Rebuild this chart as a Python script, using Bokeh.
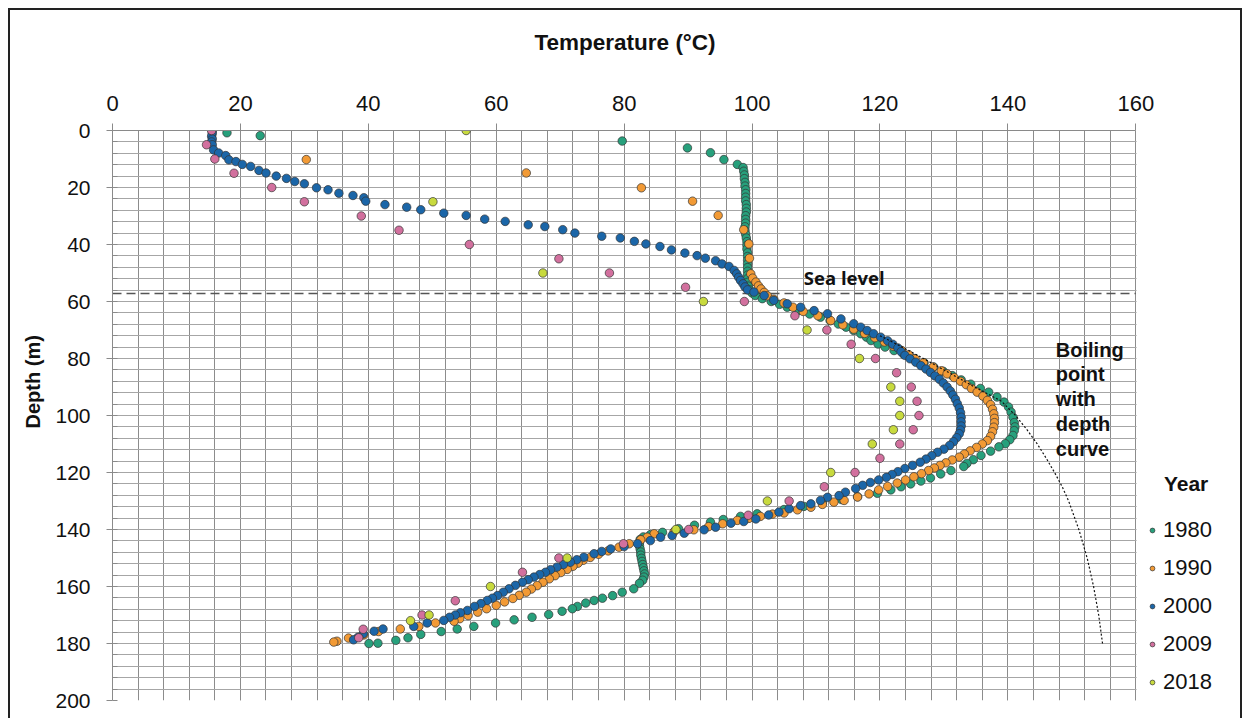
import math
from bokeh.plotting import figure
from bokeh.models import (Range1d, SingleIntervalTicker, Label, Legend, LegendItem,
                          Title, BoxAnnotation)
from bokeh.embed import file_html
from bokeh.resources import INLINE

# ---------------- data ----------------
years = ["1980", "1990", "2000", "2009", "2018"]
colors = ["#27a07c", "#f29a35", "#1b66a8", "#d2709e", "#c8da3e"]

depth_1980 = [0.8, 1.8, 3.7, 6.1, 7.8, 10.2, 11.9,
              13.0, 14.3, 15.6, 16.9, 18.2, 19.5, 20.8, 22.1, 23.4, 24.7, 26.0, 27.3, 28.6, 29.9,
              31.2, 32.5, 33.8, 35.1, 36.4, 37.7, 39.0, 40.3, 41.6, 42.9, 44.2, 45.5, 46.8, 48.1,
              49.4, 50.7, 52.0, 53.3, 54.6, 55.9, 57.0, 57.9, 59.0, 60.0, 61.0, 62.0, 63.2, 64.4,
              65.5, 66.7, 67.9, 69.0, 70.2, 71.3, 72.5, 73.7, 74.9, 76.0, 77.2, 78.5, 80.0, 81.5,
              83.0, 84.5, 86.0, 87.5, 89.0, 90.5, 91.8, 93.5, 95.3, 97.0, 98.8, 100.6, 102.5, 104.0,
              105.3, 107.0, 108.5, 109.9, 111.0, 112.5, 114.0, 115.5, 116.8, 117.9, 119.3, 120.5,
              121.9, 123.0, 124.0, 125.0, 126.1, 127.3, 128.5, 129.5, 130.5, 131.9, 133.0, 134.5,
              135.4, 136.5, 137.4, 138.5, 139.7, 141.0, 141.8, 142.6, 143.5, 144.6, 145.7, 146.8,
              147.9, 149.0, 150.1, 151.2, 152.3, 153.4, 154.5, 155.6, 156.7, 157.8, 158.9, 160.8,
              162.0, 163.2, 164.1, 164.9, 165.8, 167.0, 167.8, 168.7, 169.8, 170.8, 171.7, 172.8,
              174.0, 174.9, 175.8, 176.8, 178.0, 178.9, 179.9, 180.0]
temp_1980 = [17.9, 23.1, 79.7, 89.9, 93.5, 95.6, 97.7,
             98.6, 98.7, 98.8, 98.8, 98.9, 98.9, 99.0, 99.0, 99.0, 99.0, 99.1, 99.1, 99.1, 99.0,
             99.0, 99.0, 98.9, 98.9, 99.0, 99.1, 99.2, 99.2, 99.2, 99.3, 99.3, 99.3, 99.3, 99.3,
             99.3, 99.3, 99.3, 99.3, 99.4, 99.6, 100.0, 100.5, 101.6, 103.0, 104.3, 105.5, 107.2, 109.0,
             110.7, 112.2, 113.5, 114.7, 115.9, 117.0, 117.9, 118.6, 119.7, 120.8, 122.2, 123.7, 125.3, 126.9,
             128.4, 129.9, 131.3, 132.7, 134.2, 135.7, 137.0, 138.3, 139.4, 140.1, 140.5, 140.8, 141.0, 141.1,
             141.0, 140.8, 140.3, 139.6, 138.6, 137.3, 135.8, 134.6, 133.6, 133.1, 131.1, 129.5,
             127.9, 126.4, 124.8, 123.3, 121.7, 119.6, 116.5, 114.0, 111.0, 108.1, 105.0, 100.8,
             98.2, 95.5, 93.5, 91.0, 88.5, 86.0, 84.1, 83.0, 82.5, 82.4, 82.4, 82.5,
             82.6, 82.6, 82.7, 82.8, 82.9, 83.0, 83.1, 83.2, 83.1, 82.9, 82.4, 81.5,
             79.7, 78.2, 76.6, 75.3, 74.0, 72.7, 71.9, 70.3, 68.2, 65.6, 62.8, 59.9,
             56.5, 53.9, 51.4, 48.2, 46.2, 44.3, 41.5, 40.1]

depth_1990 = [10.2, 14.9, 20.1, 24.8, 29.8, 34.8, 39.8, 44.8, 50.3, 51.8, 53.2, 54.5, 55.6,
              56.8, 58.0, 59.2, 60.5, 62.0, 63.5, 65.0, 66.7, 68.2, 69.7, 71.2, 72.7, 74.2, 75.7,
              77.2, 78.7, 80.1, 81.5, 83.0, 84.3, 85.4, 86.7, 88.0, 89.2, 90.5, 91.8, 93.2, 94.7,
              96.2, 97.8, 99.4, 101.0, 102.5, 104.1, 105.7, 107.3, 108.8, 110.0, 111.2, 112.4,
              113.5, 114.6, 115.6, 116.6, 117.5, 118.4, 119.3, 120.4, 121.5, 122.6, 123.7, 124.9,
              126.1, 127.5, 128.6, 129.8, 130.4, 131.2, 132.2, 133.1, 134.2, 134.6, 135.4, 136.1,
              136.8, 138.0, 139.0, 140.1, 140.8, 141.5, 142.7, 143.6, 145.0, 146.2, 147.5, 148.7,
              149.8, 150.8, 151.8, 152.9, 154.0, 155.1, 156.2, 157.3, 158.5, 159.7, 160.9, 162.0,
              163.1, 164.2, 165.4, 166.6, 167.8, 169.0, 170.2, 171.3, 172.2, 172.8, 174.0, 174.9,
              175.8, 177.0, 178.1, 179.2, 179.5]
temp_1990 = [30.3, 64.7, 82.7, 90.7, 94.7, 98.7, 99.5, 99.6, 99.8, 100.1, 100.6, 101.0, 101.4,
             101.9, 102.4, 103.4, 105.0, 106.4, 108.0, 110.3, 112.3, 114.2, 115.9, 117.6, 119.2, 120.7, 122.1,
             123.4, 124.5, 125.5, 126.8, 128.3, 129.6, 130.5, 131.6, 132.6, 133.5, 134.3, 135.2, 136.1, 136.8,
             137.3, 137.6, 137.8, 137.9, 137.9, 137.8, 137.6, 137.3, 136.8, 136.0, 135.1, 134.1,
             133.2, 132.4, 131.3, 130.3, 129.4, 128.5, 127.6, 126.5, 125.3, 124.0, 122.7, 121.2,
             119.8, 118.3, 116.5, 114.4, 112.8, 111.0, 109.2, 107.1, 105.0, 103.2, 101.3, 99.5,
             97.7, 95.4, 93.2, 90.9, 87.8, 84.7, 83.6, 82.6, 80.8, 79.2, 77.5, 76.0,
             74.7, 73.6, 72.8, 72.0, 71.1, 70.1, 69.2, 68.3, 67.3, 66.4, 65.5, 64.7,
             63.6, 62.6, 61.3, 60.0, 58.5, 57.1, 55.6, 54.3, 53.4, 50.5, 47.9, 45.0,
             41.6, 39.3, 36.9, 35.1, 34.6]

depth_2000 = [0, 1, 2, 3, 4, 5, 6.8, 7.9, 8.8, 10.3,
              10.9, 11.9, 12.6, 14.0, 14.9, 16.0, 16.8, 17.9, 18.7, 20.1,
              20.8, 22.0, 22.8, 23.6, 24.8, 26.0, 26.9, 27.8, 29.0, 29.8,
              31.1, 31.9, 33.1, 33.7, 34.8, 36.0, 37.1, 37.7, 38.9, 39.8,
              40.7, 41.9, 43.0, 43.9, 44.8, 45.7, 46.8, 47.7, 49.1, 50.3,
              51.5, 52.6, 53.8, 54.9, 55.9, 56.7, 57.9, 59.6, 60.8, 62.0,
              63.2, 64.3, 66.1, 67.8, 69.0, 70.2, 71.3, 72.5, 73.8, 75.0,
              76.3, 77.6, 78.9, 80.1, 81.3, 82.5, 83.7, 84.9, 86.1, 87.3,
              88.6, 90.0, 91.4, 92.8, 94.3, 95.9, 97.4, 99.0, 100.6, 102.2,
              103.7, 105.1, 106.4, 107.8, 109.2, 110.5, 111.8, 112.9, 114.1, 115.3,
              116.4, 117.5, 118.6, 119.7, 120.7, 121.7, 122.6, 123.5, 124.5, 125.6,
              126.9, 128.1, 128.7, 129.8, 131.0, 131.6, 132.7, 133.9, 134.9, 136.3,
              137.2, 137.8, 139.2, 140.1, 141.3, 142.1, 142.7, 143.9, 145.0, 146.0,
              146.8, 147.7, 148.5, 149.7, 150.6, 151.5, 152.3, 153.2, 154.1, 155.0,
              155.8, 156.7, 157.6, 158.5, 159.6, 160.8, 162.0, 163.2, 164.1, 164.9,
              166.0, 167.0, 168.4, 169.2, 170.0, 170.8, 171.9, 172.8, 174.0, 174.9,
              175.7, 176.6, 177.8, 178.7]
temp_2000 = [15.6, 15.6, 15.5, 15.6, 15.5, 15.6, 15.8, 16.6, 17.7, 18.2,
             19.3, 20.3, 21.6, 22.9, 24.0, 25.6, 27.2, 28.5, 30.0, 31.9,
             33.7, 35.4, 37.6, 39.3, 39.6, 42.6, 46.0, 48.2, 51.8, 55.3,
             58.2, 61.4, 65.0, 67.6, 70.4, 72.3, 76.5, 79.4, 81.6, 83.4,
             85.6, 87.4, 89.5, 91.4, 92.7, 94.3, 95.3, 96.4, 97.2, 97.6,
             97.9, 98.2, 98.6, 98.9, 99.3, 100.3, 101.9, 103.4, 105.5, 107.6,
             109.7, 111.8, 113.9, 115.9, 117.0, 118.0, 119.0, 120.1, 121.2, 122.0,
             122.8, 123.3, 123.9, 124.7, 125.6, 126.4, 127.2, 127.9, 128.6, 129.3,
             129.9, 130.5, 131.0, 131.4, 131.8, 132.1, 132.4, 132.6, 132.7, 132.7,
             132.7, 132.6, 132.4, 132.0, 131.5, 130.9, 130.0, 129.0, 128.1, 127.2,
             126.3, 125.1, 123.9, 122.8, 121.9, 121.0, 119.8, 118.5, 117.3, 116.2,
             114.6, 113.6, 111.8, 110.7, 109.2, 107.6, 105.8, 104.2, 102.6, 100.6,
             98.7, 96.7, 94.3, 92.5, 89.4, 87.5, 85.7, 84.1, 82.1, 80.0,
             77.9, 76.5, 75.3, 73.7, 72.6, 71.6, 70.5, 69.5, 68.5, 67.7,
             66.8, 65.9, 65.0, 64.1, 63.0, 62.0, 61.1, 60.2, 59.4, 58.6,
             57.6, 56.6, 55.5, 54.4, 53.6, 52.7, 51.8, 49.2, 47.1, 42.3,
             40.9, 39.2, 38.4, 37.7]

depth_2009 = [0, 5, 10, 15, 20, 25, 30, 35, 40, 45, 50, 55, 60, 65, 70, 75, 80, 85, 90, 95,
              100, 105, 110, 115, 120, 125, 130, 135, 140, 145, 150, 155, 165, 170, 175, 178]
temp_2009 = [15.5, 14.7, 16.0, 19.0, 24.9, 30.0, 38.9, 44.8, 55.8, 69.8, 77.7, 89.6, 98.8,
             106.7, 111.7, 115.5, 119.3, 122.6, 124.9, 125.8, 126.1, 125.2, 123.1, 120.0,
             116.1, 111.3, 105.8, 99.4, 90.1, 79.9, 69.8, 64.1, 53.6, 48.4, 39.2, 38.5]

depth_2018 = [0, 25, 50, 60, 70, 80, 90, 95, 100, 105, 110, 120, 130, 140, 150, 160, 170, 172]
temp_2018 = [55.3, 50.1, 67.3, 92.4, 108.6, 116.8, 121.7, 123.1, 123.1, 122.1, 118.8,
             112.3, 102.4, 88.1, 71.1, 59.1, 49.5, 46.6]

boil_depth = [72, 76, 80, 85, 90, 95, 100, 105, 110, 115, 120, 125, 130, 140, 150, 160, 170, 180]
boil_temp = [120.0, 123.5, 126.8, 130.8, 134.8, 139.0, 141.2, 143.0, 144.6, 146.0, 147.3,
             148.5, 149.5, 151.1, 152.4, 153.4, 154.2, 154.8]

sea_level_depth = 57.2
temp_min, temp_max = 0, 160
depth_min, depth_max = 0, 200
x_ticks_interval = 20
y_ticks_interval = 20

series = [(depth_1980, temp_1980), (depth_1990, temp_1990), (depth_2000, temp_2000),
          (depth_2009, temp_2009), (depth_2018, temp_2018)]

FONT = "Liberation Sans"

# frame extends to the right edge so that the legend area (beyond 160 °C) is not clipped
p = figure(width=1234, height=710,
           x_range=Range1d(temp_min, 177.0), y_range=Range1d(depth_max, depth_min),
           x_axis_location="above",
           output_backend="svg", toolbar_location=None,
           min_border_left=102, min_border_right=0,
           min_border_top=120, min_border_bottom=20)
p.styles = {"margin-left": "8px", "margin-top": "8px",
            "border-left": "2px solid #222", "border-top": "2px solid #222",
            "border-right": "2px solid #222"}
p.background_fill_color = "white"
p.border_fill_color = "white"
p.outline_line_color = None

xt = SingleIntervalTicker(interval=x_ticks_interval, num_minor_ticks=5)
yt = SingleIntervalTicker(interval=y_ticks_interval, num_minor_ticks=5)

xa = p.xaxis[0]
xa.ticker = xt
xa.bounds = (temp_min, temp_max)
xa.major_label_text_font = FONT
xa.major_label_text_font_size = "22px"
xa.major_label_text_color = "#111"
xa.major_label_standoff = 13
xa.major_tick_out = 7
xa.major_tick_in = 0
xa.minor_tick_out = 0
xa.minor_tick_in = 0
xa.axis_line_color = "#8a8a8a"
xa.major_tick_line_color = "#8a8a8a"
# invisible spacer label: lifts the title panel a little higher above the tick labels
xa.axis_label = "\u00a0"
xa.axis_label_text_font_size = "5px"
xa.axis_label_standoff = 10

p.add_layout(Title(text="Temperature (°C)", align="left", offset=422, vertical_align="middle",
                   standoff=35, text_font=FONT, text_font_style="bold",
                   text_font_size="22.5px", text_color="#111"), "above")

ya = p.yaxis[0]
ya.ticker = yt
ya.major_label_text_font = FONT
ya.major_label_text_font_size = "21px"
ya.major_label_text_color = "#111"
ya.major_label_standoff = 16
ya.major_tick_out = 6
ya.major_tick_in = 0
ya.minor_tick_out = 0
ya.minor_tick_in = 5
ya.axis_line_color = "#8a8a8a"
ya.major_tick_line_color = "#8a8a8a"
ya.minor_tick_line_color = "#8a8a8a"

p.add_layout(Title(text="Depth (m)", align="left", offset=272, vertical_align="middle",
                   standoff=16, text_font=FONT, text_font_style="bold",
                   text_font_size="20px", text_color="#111"), "left")

p.xgrid.ticker = xt
p.ygrid.ticker = yt
p.xgrid.bounds = (temp_min, temp_max)
p.xgrid.grid_line_color = "#8c8c8c"
p.xgrid.minor_grid_line_color = "#8c8c8c"
p.xgrid.grid_line_width = 1
p.xgrid.minor_grid_line_width = 1
p.ygrid.grid_line_color = "#a6a6a6"
p.ygrid.minor_grid_line_color = "#a6a6a6"
p.ygrid.grid_line_width = 1
p.ygrid.minor_grid_line_width = 1

# blank out the grid beyond 160 °C (legend area)
p.add_layout(BoxAnnotation(left=temp_max + 0.12, fill_color="white", fill_alpha=1.0,
                           line_alpha=0, level="underlay"))

p.segment(x0=[temp_min], x1=[temp_max], y0=[sea_level_depth], y1=[sea_level_depth],
          line_color="#555555", line_width=1.6, line_dash="9 5")

renderers = []
for (d, t), c in zip(series, colors):
    r = p.scatter(t, d, size=8.5, fill_color=c, line_color="#333333", line_width=0.7)
    renderers.append(r)

p.line(boil_temp, boil_depth, line_color="#111111", line_width=1.2, line_dash="2 2")

p.add_layout(Label(x=108.1, y=51.5, text="Sea level", text_font="Open Sans",
                   text_font_style="bold", text_font_size="18.5px", text_color="#111",
                   text_baseline="middle", text_align="left"))
p.add_layout(Label(x=147.5, y=73.0, text="Boiling\npoint\nwith\ndepth\ncurve", text_font=FONT,
                   text_font_style="bold", text_font_size="20px", text_color="#111",
                   text_baseline="top", text_align="left", text_line_height=1.13))
p.add_layout(Label(x=164.4, y=123.9, text="Year", text_font=FONT,
                   text_font_style="bold", text_font_size="21px", text_color="#111",
                   text_baseline="middle", text_align="left"))

legend = Legend(items=[LegendItem(label=y, renderers=[r]) for y, r in zip(years, renderers)],
                location=(1034, 5), orientation="vertical",
                background_fill_alpha=0, border_line_alpha=0,
                label_text_font=FONT, label_text_font_size="22px", label_text_color="#111",
                glyph_width=12, glyph_height=12, label_standoff=5, spacing=12,
                label_height=25, padding=0, margin=0)
p.add_layout(legend)

open("out.html", "w").write(file_html(p, INLINE))
